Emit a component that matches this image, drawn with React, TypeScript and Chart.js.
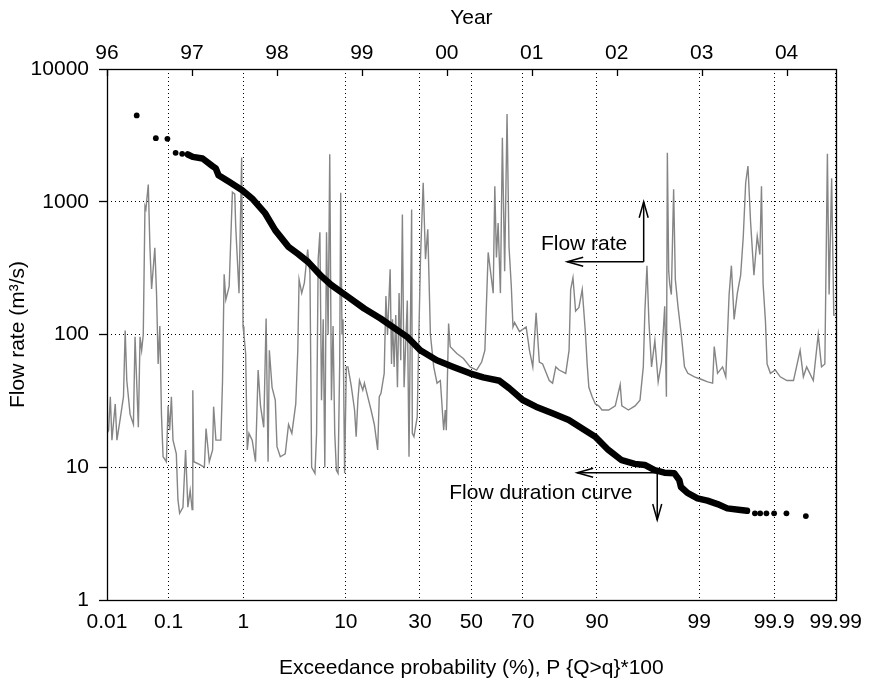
import React, { useEffect, useRef } from 'react';
import { Chart, registerables } from 'chart.js';

Chart.register(...registerables);

const FONT = "'Liberation Sans', Arial, Helvetica, sans-serif";
const FS = 21;

// Bottom axis: exceedance probability (%) on normal probability paper
const probTicks = [0.01, 0.1, 1, 10, 30, 50, 70, 90, 99, 99.9, 99.99];
const probTickLabels = ['0.01', '0.1', '1', '10', '30', '50', '70', '90', '99', '99.9', '99.99'];

// Top axis: years
const yearTicks = [1996, 1997, 1998, 1999, 2000, 2001, 2002, 2003, 2004];
const yearTickLabels = ['96', '97', '98', '99', '00', '01', '02', '03', '04'];
const yearMin = 1996;
const yearMax = 2004.578;

// Left axis: flow rate (log)
const flowTicks = [1, 10, 100, 1000, 10000];

// Daily flow rate series (decimal year, m3/s)
const seriesYear = [
  1996.000, 1996.019, 1996.039, 1996.058, 1996.097, 1996.117, 1996.155, 1996.194, 1996.214, 1996.233,
  1996.272, 1996.311, 1996.330, 1996.369, 1996.389, 1996.408, 1996.427, 1996.447, 1996.458, 1996.486,
  1996.505, 1996.525, 1996.563, 1996.583, 1996.602, 1996.622, 1996.641, 1996.660, 1996.699, 1996.719,
  1996.738, 1996.758, 1996.777, 1996.816, 1996.835, 1996.855, 1996.894, 1996.925, 1996.952, 1996.979,
  1997.002, 1997.010, 1997.022, 1997.088, 1997.146, 1997.166, 1997.204, 1997.243, 1997.255, 1997.282,
  1997.340, 1997.360, 1997.379, 1997.399, 1997.438, 1997.476, 1997.504, 1997.515, 1997.554, 1997.585,
  1997.601, 1997.612, 1997.632, 1997.651, 1997.671, 1997.709, 1997.748, 1997.779, 1997.807, 1997.845,
  1997.873, 1997.896, 1997.911, 1997.943, 1997.981, 1998.001, 1998.040, 1998.098, 1998.137, 1998.176,
  1998.222, 1998.246, 1998.261, 1998.292, 1998.323, 1998.362, 1998.389, 1998.409, 1998.448, 1998.467,
  1998.486, 1998.506, 1998.525, 1998.545, 1998.564, 1998.584, 1998.603, 1998.622, 1998.642, 1998.661,
  1998.681, 1998.700, 1998.720, 1998.739, 1998.751, 1998.766, 1998.778, 1998.797, 1998.817, 1998.836,
  1998.875, 1998.914, 1998.933, 1998.953, 1998.972, 1999.011, 1999.030, 1999.069, 1999.108, 1999.147,
  1999.186, 1999.205, 1999.225, 1999.263, 1999.283, 1999.302, 1999.333, 1999.349, 1999.361, 1999.380,
  1999.399, 1999.419, 1999.438, 1999.458, 1999.477, 1999.497, 1999.535, 1999.555, 1999.586, 1999.594,
  1999.613, 1999.652, 1999.671, 1999.691, 1999.722, 1999.749, 1999.776, 1999.807, 1999.846, 1999.885,
  1999.924, 1999.963, 1999.982, 1999.994, 2000.021, 2000.040, 2000.118, 2000.196, 2000.274, 2000.351,
  2000.410, 2000.448, 2000.487, 2000.546, 2000.565, 2000.584, 2000.604, 2000.631, 2000.654, 2000.681,
  2000.709, 2000.732, 2000.759, 2000.779, 2000.798, 2000.856, 2000.934, 2000.973, 2001.012, 2001.051,
  2001.089, 2001.128, 2001.206, 2001.245, 2001.283, 2001.322, 2001.400, 2001.439, 2001.458, 2001.485,
  2001.516, 2001.555, 2001.594, 2001.633, 2001.652, 2001.672, 2001.711, 2001.749, 2001.788, 2001.827,
  2001.905, 2001.983, 2002.041, 2002.060, 2002.138, 2002.216, 2002.274, 2002.313, 2002.332, 2002.356,
  2002.379, 2002.410, 2002.449, 2002.488, 2002.527, 2002.565, 2002.585, 2002.596, 2002.612, 2002.624,
  2002.643, 2002.670, 2002.690, 2002.721, 2002.760, 2002.798, 2002.837, 2002.915, 2002.993, 2003.071,
  2003.129, 2003.148, 2003.187, 2003.246, 2003.284, 2003.304, 2003.323, 2003.350, 2003.382, 2003.420,
  2003.459, 2003.490, 2003.518, 2003.545, 2003.576, 2003.615, 2003.654, 2003.685, 2003.704, 2003.723,
  2003.751, 2003.770, 2003.809, 2003.867, 2003.925, 2004.003, 2004.081, 2004.159, 2004.197, 2004.236,
  2004.314, 2004.372, 2004.411, 2004.450, 2004.480, 2004.500, 2004.530, 2004.555, 2004.578,
];
const seriesFlow = [
  18, 19, 34, 16, 30, 16, 23, 34, 107, 45,
  25, 21, 96, 20, 96, 76, 100, 925, 880, 1350,
  460, 220, 450, 205, 60, 116, 25, 12, 11, 29,
  19, 34, 16, 12.6, 5.7, 4.5, 5, 13.5, 5, 6.7,
  4.8, 38, 11, 10.5, 10, 19.6, 11, 13.5, 28.6, 16,
  16, 45, 284, 183, 230, 1180, 1140, 655, 205, 2150,
  115, 100, 72, 13.5, 18, 16, 11, 54, 29, 20,
  132, 11, 76, 40, 32, 14.3, 12, 12.6, 21, 18,
  30, 76, 260, 205, 245, 437, 290, 10, 9, 18,
  370, 590, 32, 130, 10, 590, 100, 2280, 32, 116,
  18, 9.5, 9, 60, 1170, 100, 130, 9, 57, 57,
  41, 27, 17, 32, 45, 38, 43, 34, 27, 21,
  13.5, 34, 36, 51, 195, 100, 310, 60, 130, 57,
  140, 40, 205, 64, 800, 40, 180, 12, 875, 18,
  17, 24, 100, 390, 1390, 370, 620, 100, 57, 43,
  45, 19, 27, 19, 121, 81, 72, 66, 57, 54,
  62, 76, 415, 205, 1310, 380, 690, 205, 3030, 300,
  4580, 460, 232, 114, 123, 105, 114, 76, 57, 146,
  62, 60, 45, 43, 57, 54, 51, 76, 218, 268,
  150, 160, 218, 100, 60, 40, 34, 30, 29, 27,
  27, 29, 42, 29, 27, 29, 32, 57, 152, 330,
  125, 57, 90, 44, 62, 163, 34, 2340, 300, 240,
  200, 1240, 260, 163, 100, 57, 51, 48, 46, 44,
  43, 81, 51, 57, 48, 100, 200, 330, 130, 205,
  280, 550, 1390, 1860, 700, 280, 550, 400, 1310, 240,
  125, 60, 51, 54, 48, 45, 45, 76, 48, 57,
  45, 100, 57, 60, 2300, 200, 1500, 140, 140,
];

// Flow duration curve (exceedance probability %, m3/s): dense part
const fdcProb = [
  0.19, 0.223, 0.304, 0.412, 0.455, 0.493, 0.67, 0.967, 1.26, 1.77,
  2.26, 3.10, 3.87, 4.80, 6.29, 7.64, 10.4, 13.7, 17.7, 22.5,
  25.6, 30.1, 36.2, 42.7, 49.4, 54.8, 61.3, 65.1, 70.0, 74.5,
  79.6, 84.0, 87.1, 89.7, 91.9, 93.75, 95.23, 96.16, 96.93, 97.56,
  98.09, 98.31, 98.38, 98.63, 98.95, 99.20, 99.40, 99.55, 99.70, 99.755,
];
const fdcFlow = [
  2270, 2178, 2118, 1854, 1782, 1585, 1413, 1222, 1059, 816,
  611, 457, 403, 351, 275, 236, 192, 157, 132, 108,
  96, 76, 64, 57, 51, 47.5, 44.8, 39.3, 32.1, 28.6,
  25.5, 22.7, 19.6, 17.0, 13.5, 11.3, 10.6, 10.4, 9.5, 9.1,
  9.0, 8.0, 7.1, 6.4, 5.83, 5.6, 5.28, 4.9, 4.76, 4.70,
];
// Flow duration curve: isolated points at both ends
const fdcTailProb = [0.0318, 0.064, 0.096, 0.127, 0.158, 99.81, 99.84, 99.87, 99.90, 99.935, 99.968];
const fdcTailFlow = [4467, 3013, 2977, 2335, 2296, 4.5, 4.5, 4.5, 4.5, 4.5, 4.29];

// Annotations (probability %, flow)
const flowRateNote = { text: 'Flow rate', prob: 87.5, flow: 477 };
const flowRateArrow = { cornerProb: 96.07, cornerFlow: 353, upFlow: 1000, leftProb: 83.6 };
const fdcNote = { text: 'Flow duration curve', prob: 76.1, flow: 6.42 };
const fdcArrow = { cornerProb: 97.11, cornerFlow: 9.09, leftProb: 85.98, downFlow: 4.0 };

function probit(p: number): number {
  const a = [-3.969683028665376e1, 2.209460984245205e2, -2.759285104469687e2, 1.38357751867269e2, -3.066479806614716e1, 2.506628277459239];
  const b = [-5.447609879822406e1, 1.615858368580409e2, -1.556989798598866e2, 6.680131188771972e1, -1.328068155288572e1];
  const c = [-7.784894002430293e-3, -3.223964580411365e-1, -2.400758277161838, -2.549732539343734, 4.374664141464968, 2.938163982698783];
  const d = [7.784695709041462e-3, 3.224671290700398e-1, 2.445134137142996, 3.754408661907416];
  const pl = 0.02425;
  if (p < pl) {
    const q = Math.sqrt(-2 * Math.log(p));
    return (((((c[0] * q + c[1]) * q + c[2]) * q + c[3]) * q + c[4]) * q + c[5]) / ((((d[0] * q + d[1]) * q + d[2]) * q + d[3]) * q + 1);
  }
  if (p <= 1 - pl) {
    const q = p - 0.5;
    const r = q * q;
    return ((((((a[0] * r + a[1]) * r + a[2]) * r + a[3]) * r + a[4]) * r + a[5]) * q) / (((((b[0] * r + b[1]) * r + b[2]) * r + b[3]) * r + b[4]) * r + 1);
  }
  const q = Math.sqrt(-2 * Math.log(1 - p));
  return -(((((c[0] * q + c[1]) * q + c[2]) * q + c[3]) * q + c[4]) * q + c[5]) / ((((d[0] * q + d[1]) * q + d[2]) * q + d[3]) * q + 1);
}
const zOf = (pct: number) => probit(pct / 100);

function drawArrow(ctx: CanvasRenderingContext2D, x1: number, y1: number, x2: number, y2: number) {
  const len = 16;
  const half = 4.5;
  ctx.beginPath();
  ctx.moveTo(x1, y1);
  ctx.lineTo(x2, y2);
  ctx.stroke();
  const ang = Math.atan2(y2 - y1, x2 - x1);
  const bx = x2 - len * Math.cos(ang);
  const by = y2 - len * Math.sin(ang);
  const px = -Math.sin(ang) * half;
  const py = Math.cos(ang) * half;
  ctx.beginPath();
  ctx.moveTo(bx + px, by + py);
  ctx.lineTo(x2, y2);
  ctx.lineTo(bx - px, by - py);
  ctx.stroke();
}

const overlayPlugin = {
  id: 'overlay',
  afterDatasetsDraw(chart: any) {
    const { ctx, chartArea: a, scales } = chart;
    const sx = scales.x;
    const sx2 = scales.x2;
    const sy = scales.y;
    ctx.save();
    ctx.strokeStyle = '#000';
    ctx.lineWidth = 1.3;
    // inward year ticks on the top border
    yearTicks.forEach((v) => {
      const px = Math.round(sx2.getPixelForValue(v)) + 0.5;
      ctx.beginPath();
      ctx.moveTo(px, a.top);
      ctx.lineTo(px, a.top + 7);
      ctx.stroke();
    });
    // frame
    ctx.strokeRect(Math.round(a.left) + 0.5, Math.round(a.top) + 0.5, Math.round(a.right - a.left), Math.round(a.bottom - a.top));

    // annotations
    ctx.fillStyle = '#000';
    ctx.font = `${FS}px ${FONT}`;
    ctx.textAlign = 'center';
    ctx.textBaseline = 'middle';
    ctx.fillText(flowRateNote.text, sx.getPixelForValue(zOf(flowRateNote.prob)), sy.getPixelForValue(flowRateNote.flow));
    ctx.fillText(fdcNote.text, sx.getPixelForValue(zOf(fdcNote.prob)), sy.getPixelForValue(fdcNote.flow));

    ctx.lineWidth = 1.5;
    const c1x = sx.getPixelForValue(zOf(flowRateArrow.cornerProb));
    const c1y = sy.getPixelForValue(flowRateArrow.cornerFlow);
    drawArrow(ctx, c1x, c1y, c1x, sy.getPixelForValue(flowRateArrow.upFlow));
    drawArrow(ctx, c1x, c1y, sx.getPixelForValue(zOf(flowRateArrow.leftProb)), c1y);

    const c2x = sx.getPixelForValue(zOf(fdcArrow.cornerProb));
    const c2y = sy.getPixelForValue(fdcArrow.cornerFlow);
    drawArrow(ctx, c2x, c2y, sx.getPixelForValue(zOf(fdcArrow.leftProb)), c2y);
    drawArrow(ctx, c2x, c2y, c2x, sy.getPixelForValue(fdcArrow.downFlow));
    ctx.restore();
  },
};

export default function App() {
  const ref = useRef<HTMLCanvasElement>(null);
  useEffect(() => {
    const canvas = ref.current;
    if (!canvas) return;
    Chart.defaults.font.family = FONT;
    Chart.defaults.color = '#000';
    const tickFont = { size: FS, family: FONT };
    const chart = new Chart(canvas, {
      type: 'line',
      data: {
        datasets: [
          {
            label: 'Flow duration curve',
            data: fdcProb.map((p, i) => ({ x: zOf(p), y: fdcFlow[i] })),
            xAxisID: 'x',
            yAxisID: 'y',
            borderColor: '#000',
            backgroundColor: '#000',
            borderWidth: 6.5,
            borderCapStyle: 'round',
            borderJoinStyle: 'round',
            pointRadius: 0,
            tension: 0,
            order: 0,
          },
          {
            label: 'Flow duration curve (ends)',
            data: fdcTailProb.map((p, i) => ({ x: zOf(p), y: fdcTailFlow[i] })),
            xAxisID: 'x',
            yAxisID: 'y',
            showLine: false,
            pointRadius: 2.9,
            pointBorderWidth: 0,
            pointBackgroundColor: '#000',
            borderColor: '#000',
            order: 1,
          },
          {
            label: 'Flow rate',
            data: seriesYear.map((t, i) => ({ x: t, y: seriesFlow[i] })),
            xAxisID: 'x2',
            yAxisID: 'y',
            borderColor: '#858585',
            borderWidth: 1.4,
            pointRadius: 0,
            tension: 0,
            order: 2,
          },
        ],
      } as any,
      options: {
        responsive: false,
        devicePixelRatio: 1,
        animation: false,
        events: [],
        layout: { padding: { left: 0, right: 29, top: 0, bottom: 0 } },
        plugins: { legend: { display: false }, tooltip: { enabled: false } },
        scales: {
          x: {
            type: 'linear',
            position: 'bottom',
            min: zOf(0.01),
            max: zOf(99.99),
            afterBuildTicks: (s: any) => {
              s.ticks = probTicks.map((p) => ({ value: zOf(p) }));
            },
            afterFit: (s: any) => {
              s.height = 81;
            },
            ticks: {
              autoSkip: false,
              maxRotation: 0,
              padding: 10,
              color: '#000',
              font: tickFont,
              callback: (_v: any, i: number) => probTickLabels[i],
            },
            grid: { display: true, drawTicks: false, color: '#000', lineWidth: 1 },
            border: { display: false, dash: [1, 3] },
            title: {
              display: true,
              text: 'Exceedance probability (%), P {Q>q}*100',
              color: '#000',
              font: { size: FS, family: FONT },
              padding: { top: 0, bottom: 0 },
            },
          },
          x2: {
            type: 'linear',
            position: 'top',
            min: yearMin,
            max: yearMax,
            afterBuildTicks: (s: any) => {
              s.ticks = yearTicks.map((v) => ({ value: v }));
            },
            afterFit: (s: any) => {
              s.height = 69;
            },
            ticks: {
              autoSkip: false,
              maxRotation: 0,
              padding: 3,
              color: '#000',
              font: tickFont,
              callback: (_v: any, i: number) => yearTickLabels[i],
            },
            grid: { display: false, drawTicks: false },
            border: { display: false },
            title: {
              display: true,
              text: 'Year',
              color: '#000',
              font: { size: FS, family: FONT },
              padding: { top: 6, bottom: 0 },
            },
          },
          y: {
            type: 'logarithmic',
            position: 'left',
            min: 1,
            max: 10000,
            afterBuildTicks: (s: any) => {
              s.ticks = flowTicks.map((v) => ({ value: v }));
            },
            afterFit: (s: any) => {
              s.width = 107;
            },
            ticks: {
              autoSkip: false,
              padding: 10,
              color: '#000',
              font: tickFont,
              callback: (_v: any, i: number) => String(flowTicks[i]),
            },
            grid: {
              display: true,
              color: '#000',
              lineWidth: 1,
              drawTicks: true,
              tickLength: 8,
              tickColor: '#000',
              tickWidth: 1.3,
              tickBorderDash: [],
            },
            border: { display: false, dash: [1, 3] },
            title: {
              display: true,
              text: 'Flow rate (m³/s)',
              color: '#000',
              font: { size: FS, family: FONT },
              padding: { top: 6, bottom: 0 },
            },
          },
        },
      } as any,
      plugins: [overlayPlugin],
    });
    return () => chart.destroy();
  }, []);
  return (
    <div style={{ position: 'fixed', left: 0, top: 0, width: 872, height: 681, background: '#fff' }}>
      <canvas ref={ref} width={872} height={681} style={{ display: 'block', width: 872, height: 681 }} />
    </div>
  );
}
